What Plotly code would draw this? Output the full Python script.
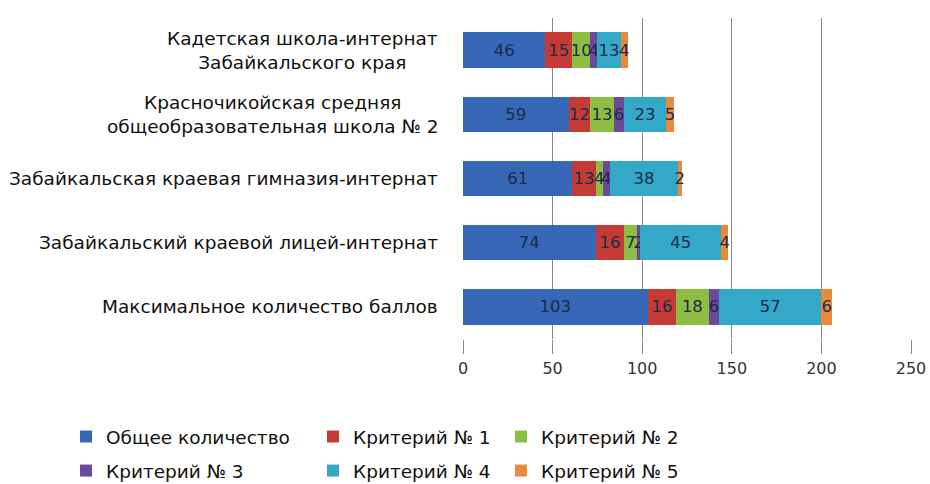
import plotly.graph_objects as go

categories = [
    "Кадетская школа-интернат<br>Забайкальского края",
    "Красночикойская средняя<br>общеобразовательная школа № 2",
    "Забайкальская краевая гимназия-интернат",
    "Забайкальский краевой лицей-интернат",
    "Максимальное количество баллов",
]
series_names = ["Общее количество", "Критерий № 1", "Критерий № 2",
                "Критерий № 3", "Критерий № 4", "Критерий № 5"]
total_points = [46, 59, 61, 74, 103]
crit1 = [15, 12, 13, 16, 16]
crit2 = [10, 13, 4, 7, 18]
crit3 = [4, 6, 4, 2, 6]
crit4 = [13, 23, 38, 45, 57]
crit5 = [4, 5, 2, 4, 6]
x_ticks = [0, 50, 100, 150, 200, 250]

series_values = [total_points, crit1, crit2, crit3, crit4, crit5]
colors = ["#3768b8", "#c43a35", "#8dbd42", "#6a4b9b", "#33a8c9", "#e88a3c"]
legend_ids = ["legend", "legend2", "legend3", "legend", "legend2", "legend3"]

FONT = "DejaVu Sans"
W, H = 930, 484
L, R, T, B = 463, 19, 18, 145
PLOT_W = W - L - R
PLOT_H = H - T - B
PLOT_BOTTOM = H - B
LEG_TOP = 418  # pixel top of legend block


def px_x(px):
    return (px - L) / PLOT_W


def px_y(py):
    return (PLOT_BOTTOM - py) / PLOT_H


fig = go.Figure()
for name, vals, col, lg in zip(series_names, series_values, colors, legend_ids):
    fig.add_trace(go.Bar(
        y=categories, x=vals, name=name, orientation="h",
        marker=dict(color=col, line=dict(width=0)),
        text=[str(v) for v in vals], textposition="inside",
        insidetextanchor="middle", textangle=0,
        textfont=dict(family=FONT, size=16.5, color="#1c2b4a"),
        constraintext="none", cliponaxis=False,
        legend=lg, legendgroup=name,
    ))

for c in categories:
    fig.add_annotation(
        x=0, xref="paper", y=c, yref="y", xanchor="right", yanchor="middle",
        xshift=-23, text=c, showarrow=False, align="center",
        font=dict(family=FONT, size=18.5, color="#111111"),
    )

leg_common = dict(
    orientation="v", xref="paper", yref="paper", yanchor="top",
    xanchor="left", y=px_y(LEG_TOP),
    traceorder="grouped", tracegroupgap=7, bgcolor="rgba(0,0,0,0)",
    font=dict(family=FONT, size=18.5, color="#111111"), itemwidth=30,
)
fig.update_layout(
    width=W, height=H,
    margin=dict(l=L, r=R, t=T, b=B, autoexpand=False),
    paper_bgcolor="white", plot_bgcolor="white",
    barmode="stack", bargap=0.45,
    uniformtext=dict(minsize=16.5, mode="show"),
    showlegend=True,
    legend=dict(x=px_x(66), **leg_common),
    legend2=dict(x=px_x(313), **leg_common),
    legend3=dict(x=px_x(501), **leg_common),
    xaxis=dict(range=[0, 250], tickvals=x_ticks, showgrid=True,
               gridcolor="#8a8a8a", gridwidth=1, zeroline=False,
               showline=False, ticks="outside", ticklen=14,
               tickcolor="#8a8a8a", ticklabelstandoff=1,
               tickfont=dict(family=FONT, size=16, color="#333333")),
    yaxis=dict(autorange="reversed", showticklabels=False, showgrid=False,
               zeroline=False, showline=False),
)

fig.write_html("out.html",
               config={"displayModeBar": False},
               post_script="document.body.style.margin='0';document.body.style.overflow='hidden';")
